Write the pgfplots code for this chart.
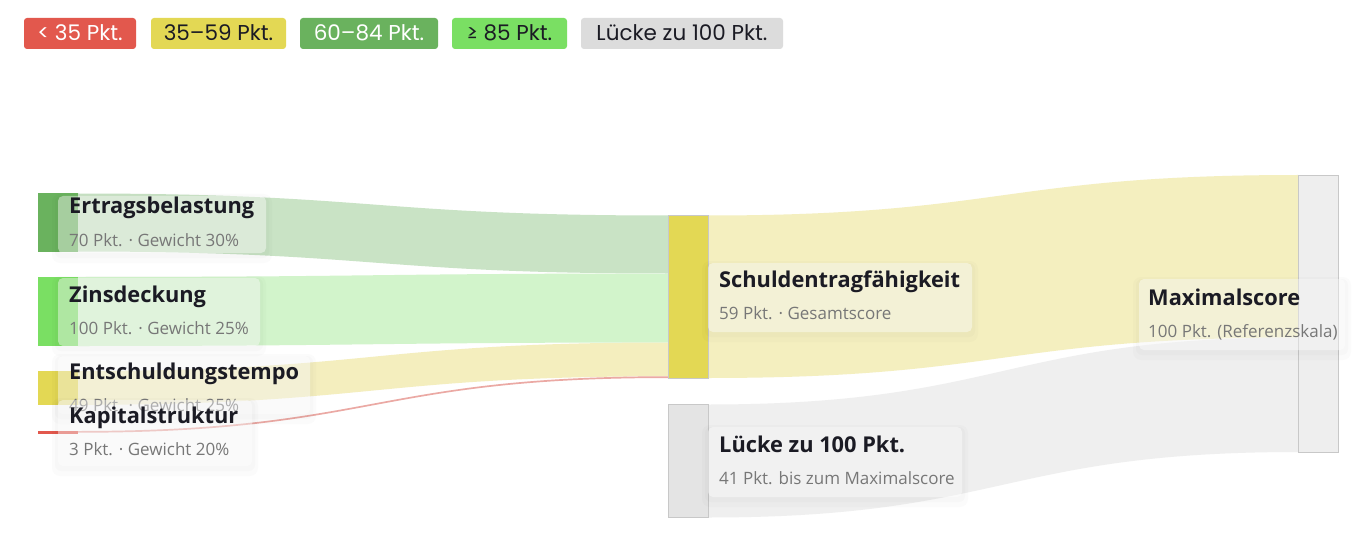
\documentclass[border=0pt]{standalone}
\usepackage{pgfplots}
\pgfplotsset{compat=1.18}
\usepackage{fontspec}
\setmainfont{Open Sans}
\newfontfamily\legendfont{Poppins}
\definecolor{cRed}{HTML}{E2584D}
\definecolor{cYel}{HTML}{E3D854}
\definecolor{cGreen}{HTML}{6AB25E}
\definecolor{cBright}{HTML}{7ADF63}
\definecolor{cGrey}{HTML}{DCDCDC}
\definecolor{nGap}{HTML}{E4E4E4}
\definecolor{nMax}{HTML}{EEEEEE}
\definecolor{nBorder}{HTML}{C8C8C8}
\definecolor{lErt}{HTML}{C9E3C5}
\definecolor{lZins}{HTML}{D2F4CB}
\definecolor{lEnt}{HTML}{F4EEBE}
\definecolor{lKap}{HTML}{EBA9A4}
\definecolor{lSch}{HTML}{F4EFBF}
\definecolor{lGap}{HTML}{EFEFEF}
\definecolor{tTitle}{HTML}{1B1B24}
\definecolor{tSub}{HTML}{777777}
% link: x0, y0top, y0bot, xmid, x1, y1top, y1bot, colour
\newcommand{\link}[8]{%
  \fill[#8] (axis cs:#1,#2) .. controls (axis cs:#4,#2) and (axis cs:#4,#6) .. (axis cs:#5,#6)
     -- (axis cs:#5,#7) .. controls (axis cs:#4,#7) and (axis cs:#4,#3) .. (axis cs:#1,#3) -- cycle;}
% label: x, title baseline, title, sub, box x0, box y0, box x1, box y1
\newcommand{\lbl}[8]{%
  \fill[black, opacity=0.015, rounded corners=8pt] (axis cs:#5-6,#6-2) rectangle (axis cs:#7+6,#8+10);
  \fill[black, opacity=0.015, rounded corners=6pt] (axis cs:#5-3,#6) rectangle (axis cs:#7+3,#8+5);
  \fill[white, opacity=0.42, rounded corners=5pt] (axis cs:#5,#6) rectangle (axis cs:#7,#8);
  \node[anchor=base west, inner sep=0pt, text=tTitle, font=\fontsize{21.8}{26}\selectfont\bfseries] at (axis cs:#1,#2) {#3};
  \node[anchor=base west, inner sep=0pt, text=tSub, font=\fontsize{17}{20}\selectfont] at (axis cs:#1,#2+32.5) {#4};}
\newcommand{\legbox}[5]{% x0, x1, fill, text colour, text
  \fill[#3, rounded corners=3pt] (axis cs:#1,18) rectangle (axis cs:#2,49);
  \node[anchor=base, inner sep=0pt, text=#4, font=\legendfont\fontsize{21.5}{25}\selectfont] at (axis cs:{(#1+#2)/2},41) {#5};}
\begin{document}
\begin{tikzpicture}
\begin{axis}[
  scale only axis, width=1362pt, height=548pt,
  xmin=0, xmax=1362, ymin=0, ymax=548, y dir=reverse,
  hide axis, clip=false]
% background
\addplot[fill=white, draw=none] coordinates {(0,0) (1362,0) (1362,548) (0,548)} -- cycle;
% links: stage 1 (weighted points x 2.76 px)
\link{78}{193.5}{251.5}{373}{668}{215.5}{273.5}{lErt}
\link{78}{277}{346}{373}{668}{273.5}{342.5}{lZins}
\link{78}{371}{404.8}{373}{668}{342.5}{376.3}{lEnt}
\link{78}{431}{432.7}{373}{668}{376.3}{378}{lKap}
% links: stage 2
\link{708}{215.5}{378}{1003}{1298}{175}{337.5}{lSch}
\link{708}{404.5}{517.5}{1003}{1298}{337.5}{452}{lGap}
% nodes
\addplot[fill=cGreen, draw=none] coordinates {(38,193.5) (78,193.5) (78,251.5) (38,251.5)} -- cycle;
\addplot[fill=cBright, draw=none] coordinates {(38,277) (78,277) (78,346) (38,346)} -- cycle;
\addplot[fill=cYel, draw=none] coordinates {(38,371) (78,371) (78,404.8) (38,404.8)} -- cycle;
\addplot[fill=cRed, draw=none] coordinates {(38,431) (78,431) (78,433.5) (38,433.5)} -- cycle;
\addplot[fill=cYel, draw=nBorder, line width=0.8pt] coordinates {(668,215.5) (708,215.5) (708,378) (668,378)} -- cycle;
\addplot[fill=nGap, draw=nBorder, line width=0.8pt] coordinates {(668,404.5) (708,404.5) (708,517.5) (668,517.5)} -- cycle;
\addplot[fill=nMax, draw=nBorder, line width=0.8pt] coordinates {(1298,175) (1338,175) (1338,452) (1298,452)} -- cycle;
% labels
\lbl{69}{214}{Ertragsbelastung}{70 Pkt. · Gewicht 30\%}{58}{196}{266}{253}
\lbl{69}{302}{Zinsdeckung}{100 Pkt. · Gewicht 25\%}{58}{278}{260}{346}
\lbl{69}{379}{Entschuldungstempo}{49 Pkt. · Gewicht 25\%}{58}{356}{310}{414}
\lbl{69}{423}{Kapitalstruktur}{3 Pkt. · Gewicht 20\%}{58}{400}{252}{466}
\lbl{719}{287}{Schuldentragfähigkeit}{59 Pkt. · Gesamtscore}{708}{263}{972}{332}
\lbl{719}{452}{Lücke zu 100 Pkt.}{41 Pkt. bis zum Maximalscore}{708}{427}{962}{497}
\lbl{1148}{305}{Maximalscore}{100 Pkt. (Referenzskala)}{1139}{279}{1345}{350}
% legend
\legbox{24}{136}{cRed}{white}{< 35 Pkt.}
\legbox{151}{286}{cYel}{tTitle}{35–59 Pkt.}
\legbox{300}{438}{cGreen}{white}{60–84 Pkt.}
\legbox{452}{567}{cBright}{tTitle}{≥ 85 Pkt.}
\legbox{581}{783}{cGrey}{tTitle}{Lücke zu 100 Pkt.}
\end{axis}
\end{tikzpicture}
\end{document}
